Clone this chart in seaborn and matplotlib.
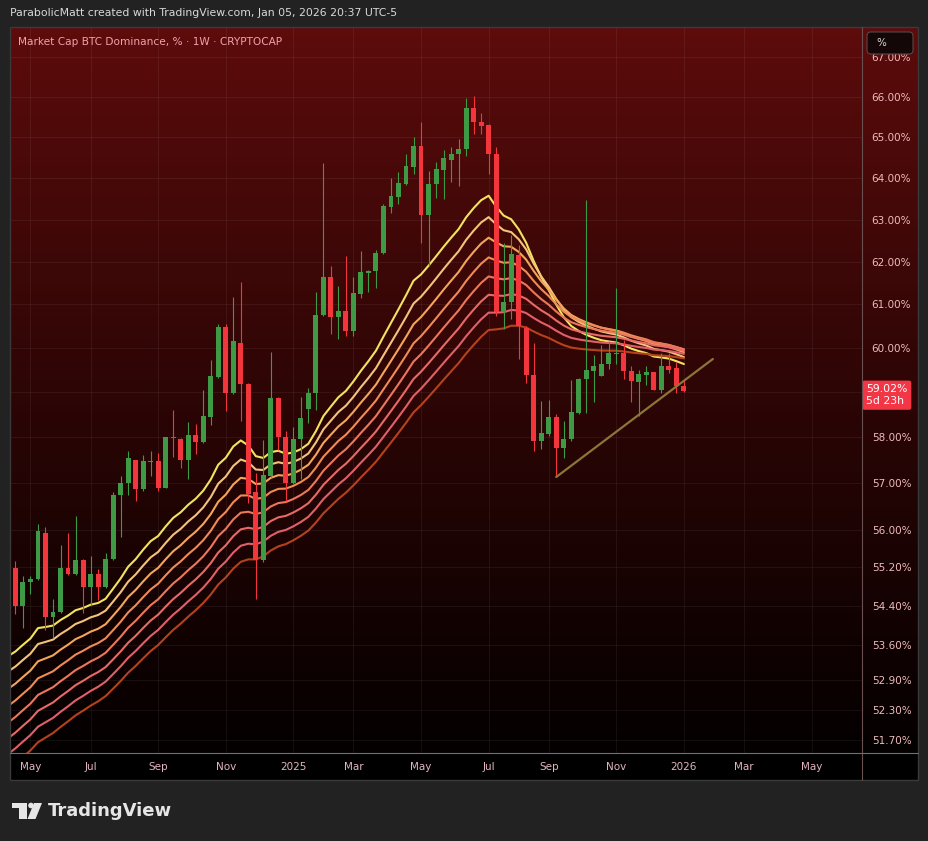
import numpy as np
import pandas as pd
import matplotlib
matplotlib.use("Agg")
import matplotlib.pyplot as plt
import matplotlib.transforms as mtransforms
from matplotlib.patches import FancyBboxPatch, Rectangle, Polygon, Circle
import seaborn as sns

# weekly candles, Market Cap BTC Dominance (CRYPTOCAP), Mondays
weeks = pd.date_range("2024-04-22", periods=90, freq="7D")

opens = [55.18, 54.39, 54.89, 54.95, 55.93, 54.18, 54.27, 55.19, 55.07, 55.35,
         54.80, 55.07, 54.80, 55.38, 56.74, 57.00, 57.51, 56.88, 57.46, 57.47,
         56.90, 58.00, 57.97, 57.51, 58.06, 57.90, 58.45, 59.35, 60.47, 58.98,
         60.12, 59.19, 56.80, 55.36, 57.15, 58.88, 58.00, 56.99, 57.96, 58.63,
         58.99, 60.76, 61.65, 60.70, 60.84, 60.38, 61.25, 61.74, 61.78, 62.20,
         63.30, 63.53, 63.85, 64.28, 64.78, 63.10, 63.85, 64.20, 64.45, 64.58,
         64.70, 65.73, 65.37, 65.30, 64.60, 60.82, 61.05, 62.15, 60.46, 59.39,
         57.91, 58.07, 58.45, 57.77, 57.96, 58.53, 59.30, 59.47, 59.37, 59.64,
         59.87, 59.88, 59.47, 59.23, 59.38, 59.45, 59.06, 59.60, 59.55, 59.13]
highs = [55.34, 55.03, 55.02, 56.13, 56.06, 54.54, 55.68, 55.93, 56.30, 55.37,
         55.45, 55.16, 55.50, 56.80, 57.16, 57.70, 57.51, 57.60, 57.70, 57.66,
         58.00, 58.61, 57.99, 58.34, 58.29, 59.04, 59.72, 60.55, 60.56, 61.17,
         61.53, 59.20, 57.22, 57.93, 59.91, 58.90, 58.13, 58.22, 58.89, 59.10,
         61.30, 64.36, 61.90, 61.44, 62.14, 61.64, 62.24, 61.80, 62.28, 63.38,
         64.00, 64.14, 64.60, 65.00, 65.39, 64.17, 64.39, 64.68, 64.77, 64.95,
         65.97, 66.03, 65.60, 65.32, 64.77, 62.45, 62.63, 62.40, 60.50, 60.11,
         58.80, 58.82, 58.52, 58.36, 59.27, 59.31, 63.48, 59.84, 60.07, 60.16,
         61.39, 60.18, 59.60, 59.51, 59.60, 59.46, 59.88, 59.88, 59.67, 59.28]
lows = [54.24, 53.94, 54.65, 54.93, 53.91, 53.75, 54.25, 55.04, 55.05, 54.26,
        54.42, 54.52, 54.78, 55.35, 55.85, 56.74, 56.62, 56.83, 57.15, 56.83,
        56.90, 57.57, 57.32, 57.08, 57.64, 57.88, 58.27, 59.33, 58.58, 58.96,
        58.35, 56.56, 54.55, 55.31, 57.13, 57.72, 56.62, 56.97, 57.08, 58.32,
        58.60, 60.74, 60.33, 60.20, 60.27, 60.27, 61.16, 61.30, 61.38, 62.18,
        63.16, 63.38, 63.83, 64.10, 62.45, 61.90, 63.51, 63.50, 63.90, 63.80,
        64.55, 65.09, 65.09, 64.10, 60.74, 60.43, 60.67, 59.75, 59.20, 57.70,
        57.74, 58.02, 57.13, 57.54, 57.91, 58.52, 58.53, 58.78, 59.36, 59.53,
        59.64, 59.30, 58.78, 58.48, 59.16, 59.05, 58.99, 59.43, 58.99, 59.00]
closes = [54.39, 54.89, 54.96, 55.96, 54.18, 54.27, 55.19, 55.07, 55.35, 54.80,
          55.07, 54.80, 55.38, 56.74, 56.99, 57.55, 56.88, 57.47, 57.48, 56.90,
          58.00, 57.98, 57.51, 58.06, 57.90, 58.48, 59.36, 60.47, 58.98, 60.15,
          59.19, 56.77, 55.36, 57.17, 58.88, 58.00, 56.99, 57.95, 58.42, 58.99,
          60.76, 61.65, 60.70, 60.86, 60.38, 61.27, 61.75, 61.78, 62.20, 63.32,
          63.56, 63.87, 64.29, 64.78, 63.10, 63.85, 64.21, 64.50, 64.60, 64.72,
          65.73, 65.37, 65.28, 64.60, 60.82, 61.05, 62.17, 60.50, 59.39, 57.91,
          58.09, 58.45, 57.77, 57.96, 58.55, 59.30, 59.49, 59.58, 59.64, 59.88,
          59.89, 59.47, 59.25, 59.40, 59.45, 59.06, 59.60, 59.51, 59.14, 59.02]

# EMA ribbon: lengths and the values the ribbon has at the left edge (week before first candle)
ema_lengths = [20, 25, 30, 35, 40, 45, 50, 55]
ema_start = [53.37, 53.06, 52.71, 52.37, 52.04, 51.73, 51.42, 51.12]
ribbon_colors = ["#f2e35f", "#f3c37c", "#f3a55a", "#f08b55",
                 "#ec785c", "#e76a66", "#e0606a", "#b5421c"]

# support trendline drawn on the chart
trend_dates = ["2025-09-08", "2026-02-01"]
trend_values = [57.13, 59.75]

ytick_values = [51.7, 52.3, 52.9, 53.6, 54.4, 55.2, 56, 57, 58, 59,
                60, 61, 62, 63, 64, 65, 66, 67]
xtick_dates = ["2024-05-06", "2024-07-01", "2024-09-02", "2024-11-04", "2025-01-06",
               "2025-03-03", "2025-05-05", "2025-07-07", "2025-09-01", "2025-11-03",
               "2026-01-05", "2026-03-02", "2026-05-04"]
xtick_labels = ["May", "Jul", "Sep", "Nov", "2025", "Mar", "May", "Jul", "Sep",
                "Nov", "2026", "Mar", "May"]
last_price = 59.02
time_left = "5d 23h"

sns.set_theme(style="dark")
plt.rcParams["font.family"] = ["DejaVu Sans"]

W, H = 929, 841
fig = plt.figure(figsize=(W / 100, H / 100), dpi=100, facecolor="#222222")
px = mtransforms.Affine2D().scale(1, -1).translate(0, H)  # pixel coords, y down


def frac(x0, y0, x1, y1):
    return [x0 / W, 1 - y1 / H, (x1 - x0) / W, (y1 - y0) / H]


# pane with the red-to-black gradient, black time strip under it
fig.add_artist(Rectangle((10, 752.7), 908, 27.3, transform=px, fc="black", ec="none", zorder=-2))
bg = fig.add_axes(frac(10, 27, 918, 752.7), zorder=-1)
t = np.linspace(0, 1, 300)[:, None, None] ** 0.9
top = np.array([0.37, 0.045, 0.045])
bot = np.array([0.015, 0.0, 0.0])
bg.imshow(top + (bot - top) * t, aspect="auto", extent=[0, 1, 0, 1])
bg.set_axis_off()

ax = fig.add_axes(frac(10, 27, 862, 752.7))
ax.patch.set_alpha(0)
ax.set_yscale("log")

# ribbon
ema_dates = pd.DatetimeIndex([weeks[0] - pd.Timedelta(days=7)]).append(weeks)
frames = []
for n, s in zip(ema_lengths, ema_start):
    vals = pd.Series([s] + closes).ewm(span=n, adjust=False).mean()
    frames.append(pd.DataFrame({"date": ema_dates, "value": vals.values, "ema": f"EMA {n}"}))
ribbon = pd.concat(frames, ignore_index=True)
sns.lineplot(data=ribbon, x="date", y="value", hue="ema",
             palette=dict(zip([f"EMA {n}" for n in ema_lengths], ribbon_colors)),
             estimator=None, legend=False, linewidth=1.5, ax=ax, zorder=2)

# candles
o, h, l, c = map(np.array, (opens, highs, lows, closes))
col = np.where(c >= o, "#3f9a46", "#f2363c")
body_lo = np.minimum(o, c)
body_h = np.maximum(np.abs(c - o), 0.025)
ax.vlines(weeks, l, h, colors=col, lw=0.8, zorder=3)
ax.bar(weeks, body_h, bottom=body_lo, width=4.6, color=col, linewidth=0, zorder=4)

ax.plot(pd.to_datetime(trend_dates), trend_values, color="#8c7536", lw=1.6, zorder=5)

ax.set_xlim(pd.Timestamp("2024-04-16 22:00"), pd.Timestamp("2026-06-20"))
ax.set_ylim(51.45, 67.78)
ax.set_xlabel("")
ax.set_ylabel("")
ax.set_yticks(ytick_values)
# 59 sits under the last-price tag, so its label stays empty
ax.set_yticklabels(["" if v == 59 else f"{v:.2f}%" for v in ytick_values])
ax.yaxis.set_minor_locator(matplotlib.ticker.NullLocator())
ax.yaxis.tick_right()
ax.set_xticks(pd.to_datetime(xtick_dates))
ax.set_xticklabels(xtick_labels)
ax.tick_params(axis="y", length=0, pad=7, labelsize=7.5, labelcolor="#efbcbc")
ax.tick_params(axis="x", length=0, pad=7, labelsize=7.5, labelcolor="#e3b5bf")
ax.grid(True, color="white", alpha=0.06, lw=0.8)
for sp in ax.spines.values():
    sp.set_visible(False)

# last price tag
ax.annotate(f"{last_price:.2f}%\n{time_left}", xy=(1, last_price),
            xycoords=("axes fraction", "data"), xytext=(3, 5), textcoords="offset points",
            ha="left", va="top", fontsize=7.8, color="white", linespacing=1.2,
            bbox=dict(boxstyle="round,pad=0.35,rounding_size=0.2", fc="#f23645", ec="none"),
            annotation_clip=False, zorder=10)

# frame lines
fig.add_artist(Rectangle((10, 27), 908, 753, transform=px, fc="none", ec="#3a3a3a", lw=1))
fig.add_artist(plt.Line2D([862, 862], [27, 780], transform=px, color="#6a5050", lw=0.8))
fig.add_artist(plt.Line2D([10, 918], [752.7, 752.7], transform=px, color="#707070", lw=0.8))

# texts
fig.text(10 / W, 1 - 13 / H, "ParabolicMatt created with TradingView.com, Jan 05, 2026 20:37 UTC-5",
         color="#d9d9d9", fontsize=7.8, va="center")
fig.text(18 / W, 1 - 42 / H, "Market Cap BTC Dominance, % · 1W · CRYPTOCAP",
         color="#efa2ad", fontsize=7.6, va="center")

fig.add_artist(FancyBboxPatch((867, 32), 46, 22, boxstyle="round,pad=0,rounding_size=4",
                              transform=px, fc="#140707", ec="#5a4646", lw=0.8, zorder=20))
fig.text(876 / W, 1 - 43 / H, "%", color="#dcdcdc", fontsize=7.5, va="center", zorder=21)

# TradingView logo
fig.add_artist(Rectangle((12, 803), 15, 5, transform=px, fc="#e6e6e6", ec="none"))
fig.add_artist(Rectangle((18.5, 803), 8.5, 16, transform=px, fc="#e6e6e6", ec="none"))
fig.add_artist(Circle((31, 805.5), 2.8, transform=px, fc="#e6e6e6", ec="none"))
fig.add_artist(Polygon([(34, 803), (42, 803), (35.5, 819), (27.5, 819)], transform=px,
                       fc="#e6e6e6", ec="none"))
fig.text(48 / W, 1 - 811 / H, "TradingView", color="#e6e6e6", fontsize=13,
         fontweight="bold", va="center")

fig.savefig("out.png", dpi=100, facecolor=fig.get_facecolor())
